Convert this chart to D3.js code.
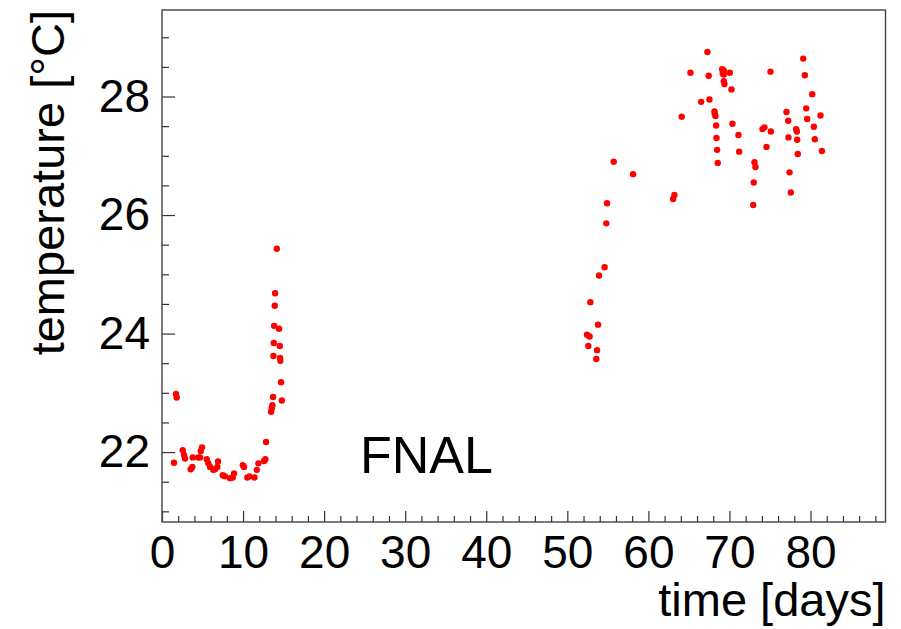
<!DOCTYPE html>
<html>
<head>
<meta charset="utf-8">
<script src="https://cdn.jsdelivr.net/npm/d3@7"></script>
<style>
  body { margin: 0; background: #fff; }
  svg { display: block; font-family: "Liberation Sans", Arial, Helvetica, sans-serif; }
</style>
</head>
<body>
<svg id="chart" width="901" height="629"></svg>
<script>
// time [days] / temperature [C] readings
const days = [
  1.48, 1.73, 1.81, 2.56, 2.72, 2.84, 3.54, 3.74, 3.79, 4.48, 4.69, 4.78, 4.94,
  5.52, 5.72, 5.93, 6.33, 6.54, 6.91, 6.83, 7.49, 7.78, 8.40, 8.73, 8.89,
  9.96, 10.12, 10.53, 10.78, 11.40, 11.69, 11.89, 12.59, 12.75, 12.84,
  14.16, 13.95, 13.91, 13.83, 14.44, 13.79, 14.53, 13.75, 14.57, 14.60, 14.69,
  13.70, 14.78, 13.62, 13.54, 13.46,
  55.72, 58.11, 54.90, 54.81, 54.60, 53.91, 52.84, 53.79, 52.43, 52.75, 52.59, 53.67, 53.58,
  67.28, 65.19, 67.44, 69.10, 69.30, 69.17, 70.04, 69.30, 69.30, 69.38, 70.25,
  66.51, 67.53, 64.11, 68.15, 68.19, 68.27, 68.36, 70.37, 68.40, 71.11, 68.48,
  71.20, 68.56, 74.07, 74.32, 74.57, 73.09, 73.21, 73.00, 72.93, 63.21, 63.05,
  79.10, 75.06, 79.30, 80.21, 77.04, 79.47, 77.25, 79.59, 81.23, 75.10, 78.23,
  78.31, 80.41, 77.28, 78.36, 80.53, 78.43, 81.40, 77.41, 77.57
];
const temps = [
  21.82, 22.98, 22.92, 22.03, 21.95, 21.89, 21.71, 21.75, 21.91, 21.91, 21.91, 22.02, 22.08,
  21.88, 21.81, 21.75, 21.70, 21.71, 21.84, 21.75, 21.61, 21.59, 21.56, 21.57, 21.64,
  21.78, 21.75, 21.57, 21.59, 21.57, 21.70, 21.81, 21.85, 21.88, 22.17,
  25.43, 24.68, 24.47, 24.13, 24.08, 23.84, 23.79, 23.62, 23.59, 23.54, 23.18,
  22.93, 22.87, 22.79, 22.74, 22.68,
  26.90, 26.69, 26.20, 25.86, 25.12, 24.98, 24.53, 24.15, 23.98, 23.95, 23.79, 23.72, 23.57,
  28.75, 28.40, 28.35, 28.46, 28.44, 28.39, 28.40, 28.37, 28.26, 28.21, 28.12,
  27.91, 27.95, 27.66, 27.75, 27.71, 27.67, 27.51, 27.54, 27.30, 27.35, 27.10,
  27.07, 26.88, 27.45, 27.48, 27.15, 26.89, 26.81, 26.55, 26.17, 26.34, 26.27,
  28.64, 28.42, 28.36, 28.04, 27.74, 27.80, 27.59, 27.62, 27.68, 27.41, 27.45,
  27.41, 27.49, 27.31, 27.27, 27.28, 27.03, 27.08, 26.72, 26.38
];

const xMajor = [0, 10, 20, 30, 40, 50, 60, 70, 80];
const yMajor = [22, 24, 26, 28];
const xTitle = "time [days]";
const yTitle = "temperature [°C]";
const label = "FNAL";

const frame = { left: 162, right: 885.5, top: 10, bottom: 522 };

const svg = d3.select("#chart");

const x = d3.scaleLinear().domain([0, 89.25]).range([frame.left, frame.right]);
const y = d3.scaleLinear().domain([20.82, 29.46]).range([frame.bottom, frame.top]);

const xMinor = d3.range(0, 89, 2).filter(d => d % 10 !== 0);
const yMinor = d3.range(21, 29.5, 0.5).filter(d => d % 2 !== 0);

// minor ticks (inward, no labels)
svg.append("g")
    .attr("transform", `translate(0,${frame.bottom})`)
    .call(d3.axisBottom(x).tickValues(xMinor).tickSize(-6).tickFormat(""))
    .call(g => g.select(".domain").remove());

svg.append("g")
    .attr("transform", `translate(${frame.left},0)`)
    .call(d3.axisLeft(y).tickValues(yMinor).tickSize(-7).tickFormat(""))
    .call(g => g.select(".domain").remove());

// major ticks with labels
svg.append("g")
    .attr("transform", `translate(0,${frame.bottom})`)
    .call(d3.axisBottom(x).tickValues(xMajor).tickSize(-11).tickPadding(13).tickFormat(d3.format("d")))
    .call(g => g.select(".domain").remove())
    .call(g => g.selectAll("text").attr("font-size", 46).attr("fill", "#000")
        .attr("font-family", "Liberation Sans, Arial, sans-serif"));

svg.append("g")
    .attr("transform", `translate(${frame.left},0)`)
    .call(d3.axisLeft(y).tickValues(yMajor).tickSize(-13).tickPadding(12).tickFormat(d3.format("d")))
    .call(g => g.select(".domain").remove())
    .call(g => g.selectAll("text").attr("font-size", 46).attr("fill", "#000")
        .attr("font-family", "Liberation Sans, Arial, sans-serif"));

svg.selectAll(".tick line").attr("stroke", "#333").attr("stroke-width", 1.2);

// frame
svg.append("rect")
    .attr("x", frame.left).attr("y", frame.top)
    .attr("width", frame.right - frame.left).attr("height", frame.bottom - frame.top)
    .attr("fill", "none").attr("stroke", "#444").attr("stroke-width", 1.4);

// points
svg.append("g")
  .selectAll("circle")
  .data(d3.zip(days, temps))
  .join("circle")
    .attr("cx", d => x(d[0]))
    .attr("cy", d => y(d[1]))
    .attr("r", 3.2)
    .attr("fill", "#ff0000");

// axis titles
svg.append("text")
    .attr("x", frame.right).attr("y", 616)
    .attr("text-anchor", "end")
    .attr("font-size", 47)
    .text(xTitle);

svg.append("text")
    .attr("transform", `translate(64,${frame.top}) rotate(-90)`)
    .attr("text-anchor", "end")
    .attr("font-size", 47)
    .text(yTitle);

svg.append("text")
    .attr("x", 360).attr("y", 473)
    .attr("font-size", 52)
    .text(label);
</script>
</body>
</html>
